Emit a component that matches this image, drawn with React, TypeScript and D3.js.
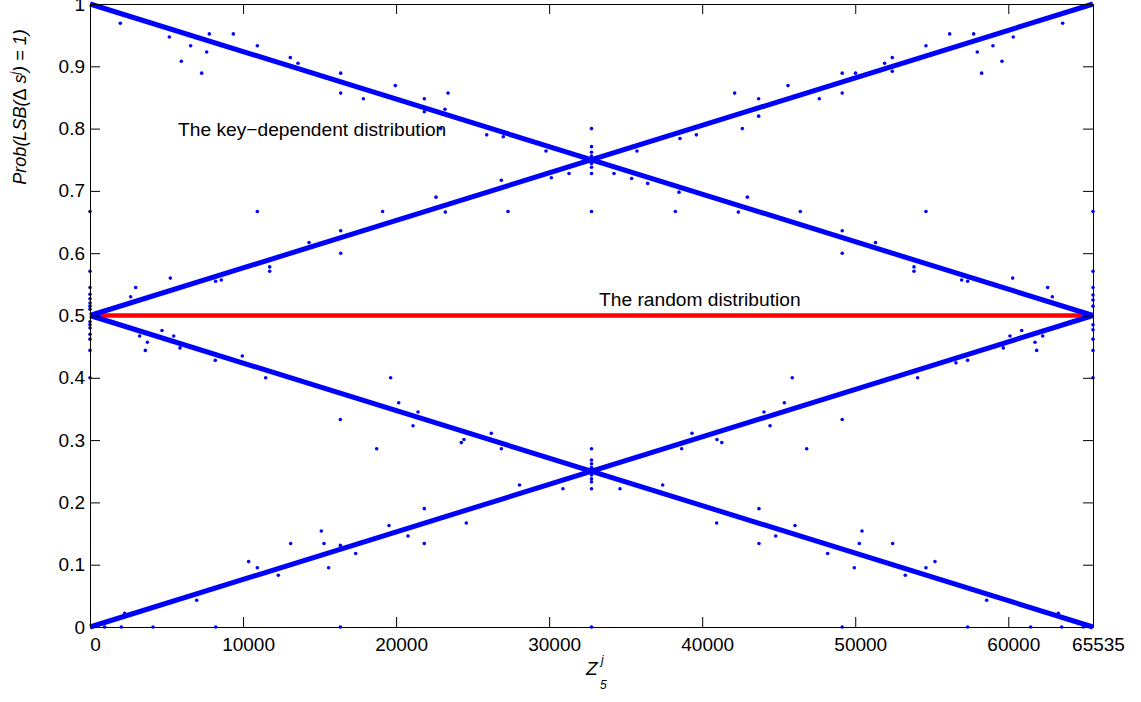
import { useEffect, useRef } from 'react';
import * as d3 from 'd3';

// tick values
const xTicks = [0, 10000, 20000, 30000, 40000, 50000, 60000, 65535];
const yTicks = [0, 0.1, 0.2, 0.3, 0.4, 0.5, 0.6, 0.7, 0.8, 0.9, 1];

// the four key-dependent trends (dense dot bands) and the random reference
const fallFromOne = [[0, 1], [65535, 0.5]];
const riseToOne = [[0, 0.5], [65535, 1]];
const fallToZero = [[0, 0.5], [65535, 0]];
const riseFromZero = [[0, 0], [65535, 0.5]];
const randomLine = [[0, 0.5], [65535, 0.5]];

// scattered points off the bands, upper half
const scatterUpper = [
  [1980, 0.969], [5966, 0.908], [7297, 0.889], [6578, 0.933], [7797, 0.952], [9364, 0.952],
  [5183, 0.947], [7623, 0.923], [10933, 0.933], [13089, 0.914], [13590, 0.905], [16381, 0.889],
  [16381, 0.857], [17860, 0.848], [19949, 0.869], [23391, 0.857], [21844, 0.848], [21844, 0.827],
  [23195, 0.831], [22914, 0.8], [25920, 0.79], [27005, 0.787], [29795, 0.764], [27312, 0.667],
  [19118, 0.667], [10933, 0.667], [22608, 0.69], [23215, 0.666], [26875, 0.717], [30142, 0.721],
  [31298, 0.728], [16381, 0.6], [16381, 0.636], [14309, 0.617], [11741, 0.571], [11741, 0.578],
  [8580, 0.557], [8210, 0.555], [5249, 0.56], [2984, 0.545], [2657, 0.53],
  [56170, 0.952], [57738, 0.952], [57975, 0.923], [58999, 0.933], [59588, 0.908], [58258, 0.889],
  [63553, 0.969], [60325, 0.947], [54620, 0.933], [52420, 0.914], [52420, 0.892], [51920, 0.905],
  [49149, 0.889], [49149, 0.857], [50021, 0.889], [47652, 0.848], [45608, 0.869], [42121, 0.857],
  [43688, 0.848], [43688, 0.82], [42624, 0.8], [39617, 0.79], [38551, 0.784], [35738, 0.764],
  [34237, 0.728], [35390, 0.72], [36438, 0.712], [38246, 0.667], [46412, 0.667], [54620, 0.667],
  [42950, 0.69], [42361, 0.666], [38486, 0.698], [49149, 0.6], [49149, 0.636], [51325, 0.617],
  [53839, 0.571], [53839, 0.578], [56953, 0.557], [57345, 0.555], [60285, 0.56], [62572, 0.545],
  [62877, 0.53],
];

// scattered points off the bands, lower half
const scatterLower = [
  [3615, 0.444], [3746, 0.457], [3245, 0.467], [4704, 0.476], [5467, 0.467], [5880, 0.448],
  [8186, 0.428], [9952, 0.435], [11478, 0.4], [16359, 0.333], [18730, 0.286], [19644, 0.4],
  [20170, 0.36], [21105, 0.323], [21431, 0.345], [24262, 0.296], [24435, 0.301], [26221, 0.311],
  [26875, 0.286], [30900, 0.222], [28066, 0.228], [24588, 0.167], [21844, 0.19], [21844, 0.134],
  [19536, 0.163], [20778, 0.146], [15114, 0.154], [15288, 0.134], [13110, 0.134], [15593, 0.095],
  [17358, 0.118], [16359, 0.131], [10365, 0.105], [10933, 0.095], [12304, 0.083], [6971, 0.043],
  [2265, 0.022],
  [45887, 0.4], [49149, 0.333], [46826, 0.286], [44432, 0.323], [44040, 0.345], [45366, 0.36],
  [41280, 0.296], [40966, 0.301], [39334, 0.311], [38660, 0.286], [34630, 0.222], [37419, 0.228],
  [40945, 0.167], [43709, 0.19], [43709, 0.134], [46065, 0.163], [44802, 0.146], [50441, 0.154],
  [50266, 0.134], [52444, 0.134], [49938, 0.095], [48197, 0.118], [55210, 0.105], [54620, 0.095],
  [53270, 0.083], [58585, 0.043], [63266, 0.022], [61855, 0.444], [61745, 0.457], [62248, 0.467],
  [60876, 0.476], [60110, 0.467], [59675, 0.448], [57345, 0.428], [56580, 0.424], [54075, 0.4],
];

// vertical spreads at the edges and at the crossing points
const leftColumn = [0.667, 0.571, 0.545, 0.534, 0.527, 0.52, 0.515, 0.51, 0.49, 0.485, 0.48, 0.47, 0.462, 0.444, 0.4];
const midColumn = [0.8, 0.771, 0.762, 0.756, 0.744, 0.738, 0.728, 0.667, 0.286, 0.268, 0.262, 0.256, 0.244, 0.238, 0.233, 0.222];
const rightColumn = [0.667, 0.571, 0.545, 0.533, 0.525, 0.515, 0.485, 0.477, 0.462, 0.444, 0.4];
const zeroHits = [957, 2046, 4116, 8213, 16359, 32768, 49149, 57345, 61463, 63488, 64904];

const FONT = 'Liberation Sans, Arial, Helvetica, sans-serif';

const App = () => {
  const ref = useRef<SVGSVGElement>(null);

  useEffect(() => {
    const W = 1141, H = 702;
    const margin = { top: 4, right: 48, bottom: 75, left: 90 };
    const svg = d3.select(ref.current);
    svg.selectAll('*').remove();

    const x = d3.scaleLinear().domain([0, 65535]).range([margin.left, W - margin.right]);
    const y = d3.scaleLinear().domain([0, 1]).range([H - margin.bottom, margin.top]);

    const line = d3.line<number[]>().x(d => x(d[0])).y(d => y(d[1]));

    svg.append('path')
      .datum(randomLine)
      .attr('fill', 'none')
      .attr('stroke', '#ff0000')
      .attr('stroke-width', 4.3)
      .attr('d', line);

    [fallFromOne, riseToOne, fallToZero, riseFromZero].forEach(s => {
      svg.append('path')
        .datum(s)
        .attr('fill', 'none')
        .attr('stroke', '#0000ff')
        .attr('stroke-width', 5)
        .attr('d', line);
    });

    const dots = [
      ...scatterUpper,
      ...scatterLower,
      ...leftColumn.map(v => [0, v]),
      ...midColumn.map(v => [32768, v]),
      ...rightColumn.map(v => [65535, v]),
      ...zeroHits.map(v => [v, 0]),
    ];

    svg.append('g')
      .selectAll('circle')
      .data(dots)
      .join('circle')
      .attr('cx', d => x(d[0]))
      .attr('cy', d => y(d[1]))
      .attr('r', 1.8)
      .attr('fill', '#0000ff');

    // axes: MATLAB style box, ticks inward on all four sides
    const bottom = svg.append('g')
      .attr('transform', `translate(0,${H - margin.bottom})`)
      .call(d3.axisBottom(x).tickValues(xTicks).tickFormat(d3.format('d')).tickSizeInner(-10).tickSizeOuter(0).tickPadding(11));
    bottom.selectAll('text').attr('dx', 5);

    const left = svg.append('g')
      .attr('transform', `translate(${margin.left},0)`)
      .call(d3.axisLeft(y).tickValues(yTicks).tickFormat(d => String(+(+d).toFixed(1))).tickSizeInner(-10).tickSizeOuter(0).tickPadding(5));

    svg.append('g')
      .attr('transform', `translate(0,${margin.top})`)
      .call(d3.axisTop(x).tickValues(xTicks).tickFormat(() => '').tickSizeInner(-10).tickSizeOuter(0));

    svg.append('g')
      .attr('transform', `translate(${W - margin.right},0)`)
      .call(d3.axisRight(y).tickValues(yTicks).tickFormat(() => '').tickSizeInner(-10).tickSizeOuter(0));

    svg.selectAll('.domain, .tick line').attr('stroke', '#000').attr('stroke-width', 1);
    [bottom, left].forEach(g => g.selectAll('text')
      .attr('fill', '#000')
      .style('font-family', FONT)
      .style('font-size', '19px'));

    // annotations
    svg.append('text')
      .attr('x', 178).attr('y', 136)
      .style('font-family', FONT).style('font-size', '19.2px')
      .text('The key\u2212dependent distribution');

    svg.append('text')
      .attr('x', 599).attr('y', 306)
      .style('font-family', FONT).style('font-size', '19.2px')
      .text('The random distribution');

    // x label: Z with superscript j and subscript 5
    const xl = svg.append('g').style('font-family', FONT).style('font-style', 'italic');
    xl.append('text').attr('x', 586).attr('y', 675).style('font-size', '19px').text('Z');
    xl.append('text').attr('x', 601).attr('y', 664).style('font-size', '12px').text('j');
    xl.append('text').attr('x', 600).attr('y', 689).style('font-size', '12px').text('5');

    // y label
    const yl = svg.append('text')
      .attr('transform', 'translate(26,107) rotate(-90)')
      .attr('text-anchor', 'middle')
      .style('font-family', FONT)
      .style('font-size', '18px')
      .style('font-style', 'italic');
    yl.append('tspan').text('Prob(LSB(');
    yl.append('tspan').style('font-style', 'normal').text('\u0394');
    yl.append('tspan').text(' s');
    yl.append('tspan').attr('dy', -7).style('font-size', '12px').text('j');
    yl.append('tspan').attr('dy', 7).text(') = 1)');
  }, []);

  return (
    <svg
      ref={ref}
      width={1141}
      height={702}
      style={{ position: 'absolute', left: 0, top: 0, background: '#fff' }}
    />
  );
};

export default App;
